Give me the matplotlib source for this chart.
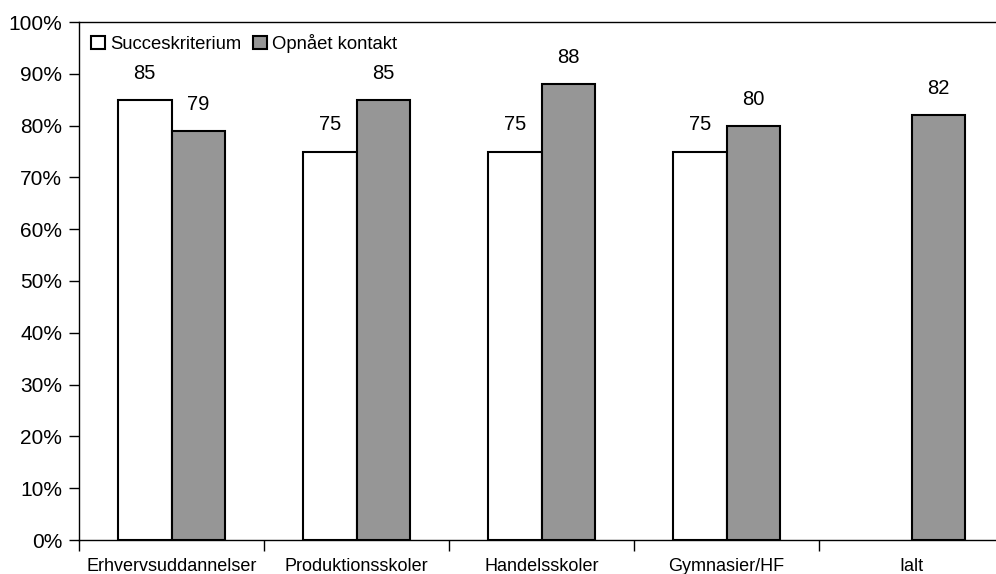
import numpy as np
import matplotlib.pyplot as plt

plt.rcParams['font.family'] = ['Liberation Sans', 'DejaVu Sans']

kategorier = ['Erhvervsuddannelser', 'Produktionsskoler', 'Handelsskoler', 'Gymnasier/HF', 'Ialt']
succes = [85, 75, 75, 75, np.nan]
opnaaet = [79, 85, 88, 80, 82]

fig = plt.figure(figsize=(9.96, 5.74), dpi=100)
ax = fig.add_axes([79/996, 34/574, 925/996, 518/574])

x = np.arange(len(kategorier))
b = 0.29
ax.bar(x - b/2, succes, b, color='white', edgecolor='black', linewidth=1.5, label='Succeskriterium')
ax.bar(x + b/2, opnaaet, b, color='#969696', edgecolor='black', linewidth=1.5, label='Opnået kontakt')

for i in range(len(x)):
    if not np.isnan(succes[i]):
        ax.text(x[i] - b/2, succes[i] + 3.3, str(succes[i]), ha='center', va='bottom', fontsize=14.5)
    ax.text(x[i] + b/2, opnaaet[i] + 3.3, str(opnaaet[i]), ha='center', va='bottom', fontsize=14.5)

ax.set_xlim(-0.5, len(x) - 0.5)
ax.set_ylim(0, 100)
ax.set_yticks(np.arange(0, 101, 10))
ax.set_yticklabels([f'{v}%' for v in range(0, 101, 10)], fontsize=15)
ax.set_xticks(np.arange(-0.5, len(x) - 0.5, 1))
ax.set_xticklabels([])
ax.set_xticks(x, minor=True)
ax.set_xticklabels(kategorier, minor=True, fontsize=13)
ax.tick_params(axis='x', which='major', length=8, width=1)
ax.tick_params(axis='x', which='minor', length=0, pad=13)
ax.tick_params(axis='y', length=7, width=1, pad=5)
ax.spines['right'].set_visible(False)
for s in ['left', 'bottom', 'top']:
    ax.spines[s].set_linewidth(1)

ax.legend(loc='upper left', ncol=2, frameon=False, fontsize=13.3, handlelength=0.75, handleheight=0.75,
          handletextpad=0.3, columnspacing=0.6, borderaxespad=0.25, bbox_to_anchor=(0.0, 1.0))

fig.savefig('out.png', dpi=100)
